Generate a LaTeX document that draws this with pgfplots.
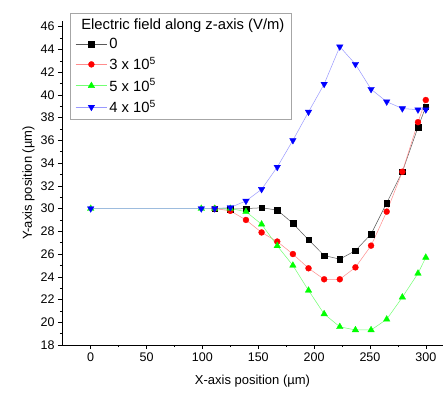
\documentclass[border=0pt]{standalone}
\usepackage{fontspec}
\setmainfont{Liberation Sans}
\usepackage{pgfplots}
\pgfplotsset{compat=1.18}
\usetikzlibrary{calc}
\begin{document}
\begin{tikzpicture}
\begin{axis}[name=ax,
  scale only axis, width=381pt, height=324pt,
  xmin=-25.7, xmax=315.4, ymin=18, ymax=46.5,
  axis x line*=bottom, axis y line*=left,
  axis line style={-, black, line width=0.6pt},
  tick align=outside,
  xtick={0,50,...,300}, ytick={18,20,...,46},
  minor x tick num=1, minor y tick num=1,
  major tick length=4pt, minor tick length=2.2pt,
  tick style={black, line width=0.5pt},
  /pgf/number format/assume math mode=true,
  ticklabel style={font=\fontsize{12.5}{14}\selectfont},
  xlabel={X-axis position (µm)}, ylabel={Y-axis position (µm)},
  label style={font=\fontsize{13}{15}\selectfont},
  xlabel style={yshift=-7pt}, ylabel style={yshift=-1pt},
  legend style={at={(rel axis cs:0.021,1.025)}, anchor=north west,
    draw=gray!70, line width=1pt, font=\fontsize{14.8}{17}\selectfont,
    inner xsep=5pt, inner ysep=3pt, row sep=3.5pt, cells={anchor=west}},
  legend cell align=left,
  legend image code/.code={\draw[mark repeat=2,mark phase=2] plot coordinates {(0cm,0cm) (0.55cm,0cm) (1.1cm,0cm)};},
]
\addlegendimage{empty legend}
\addlegendentry{\hspace{-28pt}Electric field along z-axis (V/m)}
\addplot[black!65, line width=0.5pt, mark=square*, mark size=2.8pt, mark options={black, fill=black, line width=0.3pt}] coordinates {
(111,30) (125,29.95) (139,30.0) (153,30.07) (167,29.87) (181,28.7) (195,27.25) (209,25.87) (223,25.55) (237,26.3) (251,27.76) (265,30.5) (279,33.24) (293,37.15) (300,38.96)};
\addlegendentry{0}
\addplot[red!45, line width=0.5pt, mark=*, mark size=3pt, mark options={red, fill=red, line width=0.3pt}] coordinates {
(111,30) (125,29.8) (139,29.0) (153,27.9) (167,27.1) (181,26.0) (195,24.75) (209,23.78) (223,23.78) (237,24.83) (251,26.74) (265,29.73) (279,33.24) (293,37.6) (300,39.55)};
\addlegendentry{3 x 10\textsuperscript{5}}
\addplot[green!55, line width=0.5pt, mark=triangle*, mark size=3.8pt, mark options={green, fill=green, line width=0.3pt}] coordinates {
(0,30) (99,30) (111,30) (125,30.0) (139,29.73) (153,28.62) (167,26.72) (181,25.0) (195,22.8) (209,20.73) (223,19.6) (237,19.32) (251,19.32) (265,20.26) (279,22.2) (293,24.3) (300,25.7)};
\addlegendentry{5 x 10\textsuperscript{5}}
\addplot[blue!40, line width=0.5pt, mark=triangle*, mark size=3.8pt, mark options={blue, fill=blue, rotate=180, line width=0.3pt}] coordinates {
(0,30) (99,30) (111,30) (125,30.1) (139,30.67) (153,31.7) (167,33.65) (181,36.0) (195,38.5) (209,40.95) (223,44.24) (237,42.7) (251,40.5) (265,39.4) (279,38.8) (293,38.7) (300,38.7)};
\addlegendentry{4 x 10\textsuperscript{5}}
\end{axis}
\path ($(ax.south west)+(-62pt,-49pt)$) rectangle ($(ax.north east)+(3pt,21pt)$);
\end{tikzpicture}
\end{document}
